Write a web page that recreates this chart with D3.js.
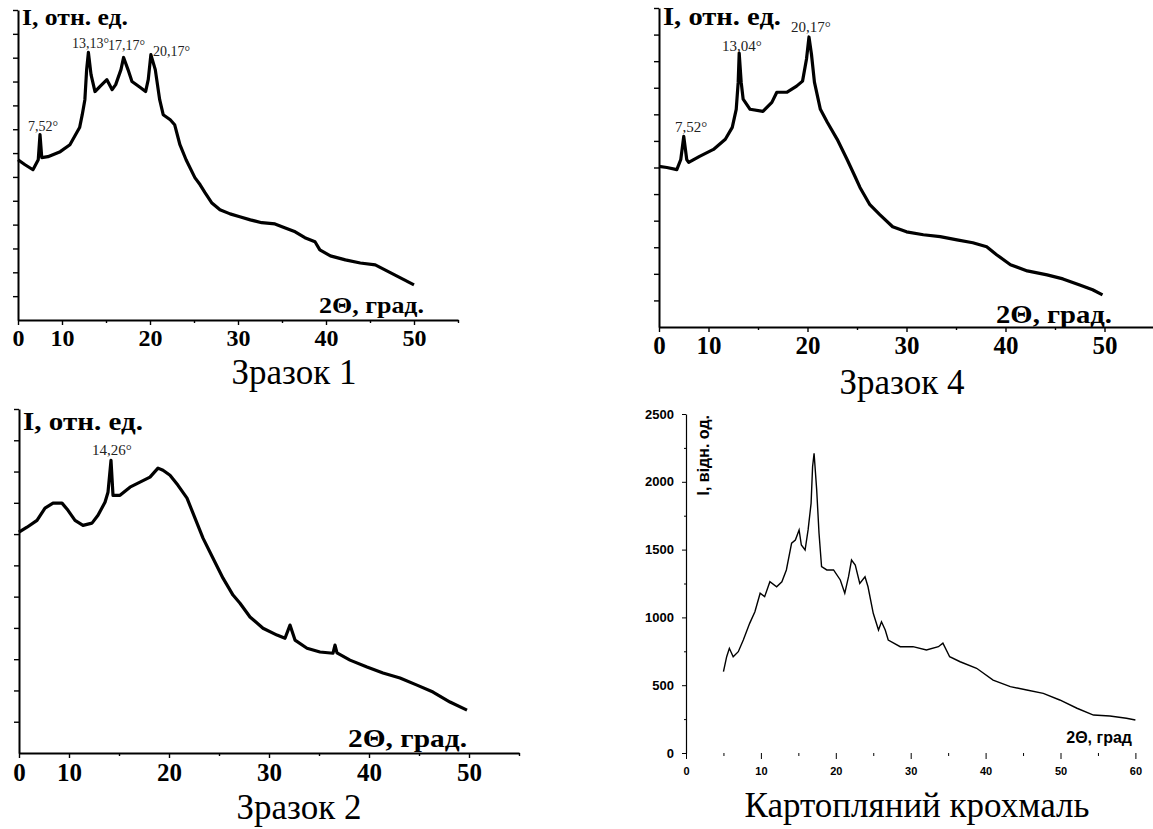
<!DOCTYPE html>
<html>
<head>
<meta charset="utf-8">
<script src="https://cdn.jsdelivr.net/npm/d3@7"></script>
<style>
  body { margin: 0; background: #fff; }
  svg { display: block; }
</style>
</head>
<body>
<div id="chart"></div>
<script>
// --- data ---
// Зразок 1
const s1Angle = [5, 5.8, 6.7, 7.3, 7.5, 7.7, 8.4, 9.8, 10.9, 12.0,
  12.3, 12.6, 12.8, 13.0, 13.3, 13.75, 14.3, 15.1, 15.7, 16.1,
  16.7, 17.0, 17.5, 17.95, 18.9, 19.5, 19.8, 20.1, 20.6, 21.1,
  21.5, 22.3, 22.8, 23.4, 24.1, 25.1, 25.7, 26.25, 27.0, 27.95,
  29.1, 30.2, 31.4, 32.7, 34.2, 35.3, 36.5, 37.6, 38.75, 39.3,
  40.5, 42.2, 43.9, 45.6, 46.7, 47.8, 48.9, 50]
const s1Int = [6.72, 6.51, 6.30, 6.72, 7.77, 6.81, 6.85, 7.06, 7.35, 8.07,
  8.61, 9.24, 10.50, 11.22, 10.29, 9.58, 9.79, 10.08, 9.66, 9.87,
  10.50, 11.01, 10.50, 10.00, 9.75, 9.58, 10.08, 11.13, 10.50, 9.24,
  8.61, 8.40, 8.19, 7.35, 6.72, 5.97, 5.67, 5.34, 4.92, 4.62,
  4.45, 4.33, 4.20, 4.08, 4.03, 3.87, 3.70, 3.45, 3.28, 2.94,
  2.69, 2.52, 2.39, 2.31, 2.10, 1.89, 1.68, 1.47]
const s1Peaks = ["7,52°", "13,13°", "17,17°", "20,17°"]
const s1PeakAt = [[6.14, 7.94], [11.14, 11.39], [15.23, 11.34], [20.34, 11.09]]

// Зразок 4
const s4Angle = [5, 5.8, 6.8, 7.2, 7.5, 7.8, 8.0, 9.1, 10.5, 11.7,
  12.4, 12.8, 13.0, 13.1, 13.3, 13.5, 14.2, 15.5, 16.4, 16.9,
  17.9, 18.9, 19.5, 19.9, 20.15, 20.4, 20.7, 21.3, 22.0, 23.0,
  24.0, 24.8, 25.3, 26.3, 27.3, 28.6, 30.0, 31.7, 33.4, 35.1,
  36.7, 38.1, 39.1, 40.5, 42.2, 44.2, 45.8, 47.5, 48.8, 49.8]
const s4Int = [6.04, 6.00, 5.92, 6.30, 7.17, 6.30, 6.19, 6.42, 6.68, 7.06,
  7.51, 8.19, 9.21, 10.30, 9.21, 8.57, 8.19, 8.11, 8.45, 8.83,
  8.83, 9.06, 9.25, 10.08, 10.91, 10.26, 9.21, 8.19, 7.70, 7.06,
  6.30, 5.66, 5.25, 4.60, 4.23, 3.77, 3.58, 3.47, 3.40, 3.28,
  3.17, 3.02, 2.72, 2.34, 2.11, 1.96, 1.81, 1.58, 1.40, 1.21]
const s4Peaks = ["7,52°", "13,04°", "20,17°"]
const s4PeakAt = [[6.62, 7.32], [11.36, 10.38], [18.33, 11.09]]

// Зразок 2
const s2Angle = [5, 5.8, 6.8, 7.6, 8.4, 9.3, 9.9, 10.6, 11.4, 12.3,
  12.9, 13.6, 13.9, 14.2, 14.4, 15.1, 16.1, 17.1, 18.1, 18.9,
  19.4, 20.1, 20.9, 21.8, 22.6, 23.4, 24.4, 25.4, 26.4, 27.1,
  28.1, 29.4, 30.8, 31.6, 32.1, 32.6, 33.8, 35.1, 36.4, 36.6,
  36.8, 38.1, 39.8, 41.4, 43.1, 44.8, 46.4, 48.1, 49.8]
const s2Int = [7.06, 7.22, 7.44, 7.83, 7.99, 7.99, 7.76, 7.44, 7.28, 7.35,
  7.60, 8.02, 8.34, 9.36, 8.24, 8.24, 8.50, 8.66, 8.82, 9.11,
  9.04, 8.88, 8.56, 8.15, 7.51, 6.87, 6.23, 5.59, 5.05, 4.79,
  4.35, 3.99, 3.77, 3.67, 4.09, 3.61, 3.35, 3.23, 3.19, 3.45,
  3.20, 2.97, 2.75, 2.56, 2.40, 2.17, 1.95, 1.63, 1.37]
const s2Peaks = ["14,26°"]
const s2PeakAt = [[12.3, 9.52]]

// Картопляний крохмаль
const starchAngle = [5.0, 5.43, 5.79, 6.3, 6.98, 7.65, 8.5, 9.2, 9.9, 10.5,
  11.2, 12.1, 12.8, 13.4, 14.1, 14.6, 15.1, 15.4, 15.9, 16.3,
  16.7, 16.9, 17.1, 17.45, 17.76, 18.1, 18.8, 19.7, 20.6, 21.2,
  21.7, 22.1, 22.6, 23.2, 23.9, 24.3, 25.0, 25.7, 26.1, 26.6,
  27.0, 28.6, 30.3, 32.1, 33.7, 34.3, 35.2, 36.6, 38.8, 41.0,
  43.3, 45.5, 47.7, 49.9, 52.2, 54.4, 56.6, 58.8, 60]
const starchInt = [600, 710, 772, 710, 747, 833, 956, 1042, 1178, 1153,
  1263, 1226, 1263, 1350, 1547, 1571, 1645, 1534, 1497, 1645,
  1841, 2111, 2210, 1940, 1620, 1374, 1350, 1350, 1276, 1178,
  1300, 1423, 1386, 1251, 1300, 1226, 1030, 907, 968, 907,
  833, 784, 784, 760, 784, 810, 710, 673, 625, 538,
  489, 465, 440, 391, 330, 280, 273, 256, 243]
const starchYTicks = [0, 500, 1000, 1500, 2000, 2500]
const starchXTicks = [0, 10, 20, 30, 40, 50, 60]

const xrdXTicks = [5, 10, 15, 20, 25, 30, 35, 40, 45, 50, 55]
const yLabelRu = "I, отн. ед."
const xLabelRu = "2Θ, град."

const W = 1153, H = 829
const svg = d3.select("#chart").append("svg")
  .attr("width", W).attr("height", H)

const SERIF = "'Liberation Serif', 'Times New Roman', serif"
const SANS = "'Liberation Sans', Arial, sans-serif"

function drawXrd(p) {
  const x = d3.scaleLinear().domain([5, 55]).range([p.left, p.right])
  const y = d3.scaleLinear().domain([0, p.ymax]).range([p.bottom, p.top])
  const g = svg.append("g")

  // y axis, ticks only, no numbers
  g.append("g")
    .attr("transform", `translate(${p.left},0)`)
    .call(d3.axisLeft(y).tickValues(d3.range(1, p.ymax + 1)).tickSize(5).tickSizeOuter(0).tickFormat(""))
    .call(a => a.select(".domain").attr("stroke-width", 2))
    .call(a => a.selectAll(".tick line").attr("stroke-width", 1.4))

  // x axis, "0" sits where the scan starts
  const xa = g.append("g")
    .attr("transform", `translate(0,${p.bottom})`)
    .call(d3.axisBottom(x).tickValues(xrdXTicks).tickSize(5).tickSizeOuter(0)
      .tickFormat(d => d === 5 ? "0" : (d % 10 === 0 ? d : "")))
  xa.select(".domain").attr("stroke-width", 2)
  xa.selectAll(".tick line").attr("stroke-width", 1.4)
    .attr("y2", d => (d % 10 === 5 && d !== 5) ? 3 : 5)
  xa.selectAll(".tick text")
    .attr("y", p.tickY).attr("dy", 0)
    .style("font-family", SERIF).style("font-weight", "bold")
    .style("font-size", p.tickFont + "px").attr("fill", "#000")

  // curve
  const pts = p.angle.map((a, i) => [a, p.inten[i]])
  g.append("path")
    .datum(pts)
    .attr("fill", "none").attr("stroke", "#000")
    .attr("stroke-width", 3.2).attr("stroke-linejoin", "round")
    .attr("d", d3.line().x(d => x(d[0])).y(d => y(d[1])))

  // peak labels
  g.selectAll("text.peak")
    .data(p.peaks)
    .enter().append("text")
    .attr("class", "peak")
    .attr("x", (d, i) => x(p.peakAt[i][0]))
    .attr("y", (d, i) => y(p.peakAt[i][1]))
    .style("font-family", SERIF).style("font-size", p.peakFont + "px")
    .attr("fill", "#222")
    .text(d => d)

  // axis titles (the original lettering is a bit wider than Times)
  g.append("text")
    .attr("x", p.left + 4).attr("y", p.top + p.yLabDy)
    .attr("textLength", p.yLabW).attr("lengthAdjust", "spacingAndGlyphs")
    .style("font-family", SERIF).style("font-weight", "bold")
    .style("font-size", p.labFont + "px")
    .text(yLabelRu)
  g.append("text")
    .attr("x", p.xLabEnd - p.xLabW).attr("y", p.bottom - p.xLabUp)
    .attr("textLength", p.xLabW).attr("lengthAdjust", "spacingAndGlyphs")
    .style("font-family", SERIF).style("font-weight", "bold")
    .style("font-size", p.labFont + "px")
    .text(xLabelRu)

  // caption
  g.append("text")
    .attr("x", p.capX).attr("y", p.capY)
    .attr("text-anchor", "middle")
    .style("font-family", SERIF).style("font-size", "35px")
    .text(p.caption)
}

drawXrd({ left: 18, right: 458, top: 10, bottom: 320, ymax: 13,
  angle: s1Angle, inten: s1Int, peaks: s1Peaks, peakAt: s1PeakAt,
  tickY: 26, tickFont: 24, peakFont: 14, labFont: 23, yLabDy: 15,
  yLabW: 106, xLabW: 105,
  xLabEnd: 424, xLabUp: 7, capX: 294, capY: 384, caption: "Зразок 1" })

drawXrd({ left: 659, right: 1154, top: 8, bottom: 327, ymax: 12,
  angle: s4Angle, inten: s4Int, peaks: s4Peaks, peakAt: s4PeakAt,
  tickY: 27, tickFont: 25, peakFont: 15, labFont: 25, yLabDy: 17,
  yLabW: 118, xLabW: 116,
  xLabEnd: 1112, xLabUp: 4, capX: 902, capY: 394, caption: "Зразок 4" })

drawXrd({ left: 19, right: 519, top: 409, bottom: 753, ymax: 11,
  angle: s2Angle, inten: s2Int, peaks: s2Peaks, peakAt: s2PeakAt,
  tickY: 28, tickFont: 25, peakFont: 15, labFont: 25, yLabDy: 21,
  yLabW: 120, xLabW: 119,
  xLabEnd: 467, xLabUp: 6, capX: 299, capY: 819, caption: "Зразок 2" })

// --- potato starch panel ---
{
  const left = 686, right = 1135.4, top = 414, bottom = 753
  const x = d3.scaleLinear().domain([0, 60]).range([left, right])
  const y = d3.scaleLinear().domain([0, 2500]).range([bottom, top])
  const g = svg.append("g")

  const ya = g.append("g")
    .attr("transform", `translate(${left},0)`)
    .call(d3.axisLeft(y).tickValues(d3.range(0, 2501, 250)).tickSize(4).tickSizeOuter(0)
      .tickFormat(d => starchYTicks.includes(d) ? d : ""))
  ya.select(".domain").attr("stroke-width", 1.2)
  ya.selectAll(".tick line").attr("x2", d => d % 500 === 0 ? -4 : -2)
  ya.selectAll(".tick text").attr("x", -12)
    .style("font-family", SANS).style("font-weight", "bold").style("font-size", "13px")

  // x ticks only, there is no x axis line in the original
  const xa = g.append("g")
    .attr("transform", `translate(0,${bottom})`)
    .call(d3.axisBottom(x).tickValues(d3.range(0, 61, 5)).tickSize(5).tickSizeOuter(0)
      .tickFormat(d => starchXTicks.includes(d) ? d : ""))
  xa.select(".domain").remove()
  xa.selectAll(".tick line").attr("y2", d => d % 10 === 0 ? 6 : 3)
  xa.selectAll(".tick text").attr("y", 22).attr("dy", 0)
    .style("font-family", SANS).style("font-weight", "bold").style("font-size", "11px")

  const pts = starchAngle.map((a, i) => [a, starchInt[i]])
  g.append("path")
    .datum(pts)
    .attr("fill", "none").attr("stroke", "#000")
    .attr("stroke-width", 1.4)
    .attr("d", d3.line().x(d => x(d[0])).y(d => y(d[1])))

  g.append("text")
    .attr("transform", `translate(${left + 23},${top + 1}) rotate(-90)`)
    .attr("text-anchor", "end")
    .style("font-family", SANS).style("font-weight", "bold").style("font-size", "16px")
    .text("I, відн. од.")

  g.append("text")
    .attr("x", 1132).attr("y", 743)
    .attr("text-anchor", "end")
    .style("font-family", SANS).style("font-weight", "bold").style("font-size", "16px")
    .text("2Θ, град")

  g.append("text")
    .attr("x", 917).attr("y", 817)
    .attr("text-anchor", "middle")
    .style("font-family", SERIF).style("font-size", "35px")
    .text("Картопляний крохмаль")
}
</script>
</body>
</html>
